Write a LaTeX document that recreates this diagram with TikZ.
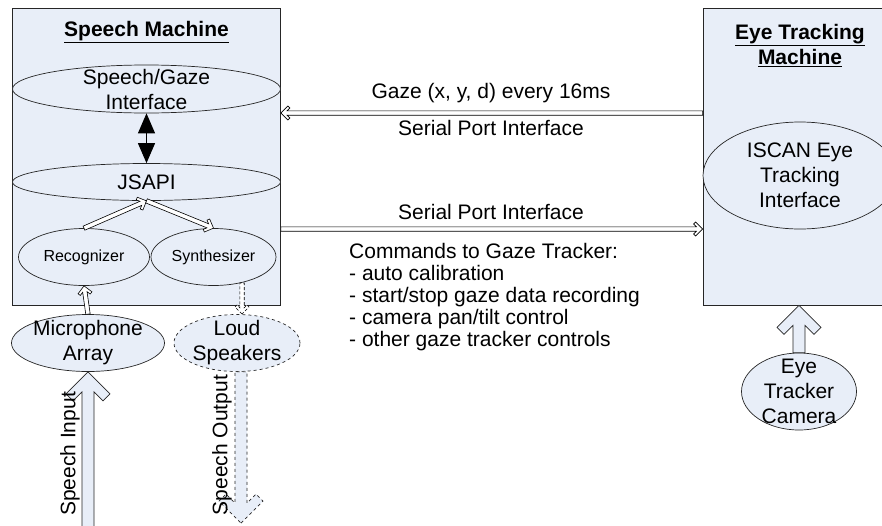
\documentclass[tikz,border=0pt]{standalone}
\usepackage{fontspec}
\setmainfont{Liberation Sans}
\usetikzlibrary{shapes.geometric,arrows.meta,calc}
\definecolor{boxfill}{RGB}{232,238,248}
% #1 style, #2 tip, #3 base, #4 sign (1 = pointing up, -1 = pointing down)
\newcommand\fatarrow[4]{%
\draw[#1] (#2) -- ($(#2)+(22,#4*22)$) -- ($(#2)+(15,#4*29)$) -- ($(#2)+(6,#4*20)$)
 -- ($(#3)+(6,0)$) -- ($(#3)+(-6,0)$) -- ($(#2)+(-6,#4*20)$)
 -- ($(#2)+(-15,#4*29)$) -- ($(#2)+(-22,#4*22)$) -- cycle;}
% hollow thin arrow: #1 style, #2 from, #3 to (tip)
\newcommand\hollowarrow[3]{%
\draw[#1] (#3) -- ($(#3)!7pt!(#2)!7pt!90:(#2)$) -- ($(#3)!9pt!(#2)!5pt!90:(#2)$)
 -- ($(#3)!6.2pt!(#2)!2.2pt!90:(#2)$) -- ($(#2)!2.2pt!-90:(#3)$) -- ($(#2)!2.2pt!90:(#3)$)
 -- ($(#3)!6.2pt!(#2)!2.2pt!-90:(#2)$) -- ($(#3)!9pt!(#2)!5pt!-90:(#2)$)
 -- ($(#3)!7pt!(#2)!7pt!-90:(#2)$) -- cycle;}
\begin{document}
\begin{tikzpicture}[x=1pt,y=-1pt,
 every node/.style={font=\fontsize{21}{25}\selectfont, inner sep=0pt},
 machine/.style={rectangle, draw=black!85, fill=boxfill, line width=0.8pt},
 ell/.style={ellipse, draw=black!85, fill=boxfill, line width=0.7pt},
 txt/.style={align=center, font=\fontsize{21}{25}\selectfont},
 smalltxt/.style={font=\fontsize{16}{19}\selectfont},
 titletxt/.style={align=center, font=\bfseries\fontsize{21}{25}\selectfont},
 hollow/.style={draw=black, fill=white, line width=0.6pt, line join=miter},
 fat/.style={draw=black!85, line width=0.7pt, fill=boxfill},
 bidir/.style={line width=1pt, {Triangle[width=17pt,length=20pt]}-{Triangle[width=17pt,length=20pt]}}
]
\useasboundingbox (0,0) rectangle (882,525);
\clip (0,0) rectangle (882,525);

% machines
\node[machine, minimum width=268, minimum height=297] (sm) at (146.5,156.5) {};
\node[machine, minimum width=194, minimum height=297] (em) at (800,156.5) {};
\node[titletxt] (smt) at (146.5,32) {\underline{Speech Machine}};
\node[titletxt] (emt) at (800,45.5) {\underline{Eye Tracking}\\\underline{Machine}};

% ellipses
\node[ell, minimum width=268, minimum height=48, label={[txt]center:{Speech/Gaze\\Interface}}] (sgi) at (146.5,89) {};
\node[ell, minimum width=268, minimum height=37, label={[txt]center:{JSAPI}}] (jsapi) at (146.5,182) {};
\node[ell, minimum width=131, minimum height=57, label={[smalltxt]center:{Recognizer}}] (rec) at (84,257) {};
\node[ell, minimum width=125, minimum height=57, label={[smalltxt]center:{Synthesizer}}] (syn) at (213.5,257) {};
\node[ell, minimum width=153, minimum height=57, label={[txt]center:{Microphone\\Array}}] (mic) at (88,343) {};
\node[ell, dashed, minimum width=126, minimum height=57, label={[txt]center:{Loud\\Speakers}}] (spk) at (237,343) {};
\node[ell, minimum width=194, minimum height=107, label={[txt]center:{ISCAN Eye\\Tracking\\Interface}}] (iscan) at (800,175.5) {};
\node[ell, minimum width=115, minimum height=77, label={[txt]center:{Eye\\Tracker\\Camera}}] (cam) at (799,391.5) {};

% internal arrows
\draw[bidir] (sgi.south) -- (jsapi.north);
\hollowarrow{hollow}{rec.north}{jsapi.south}
\hollowarrow{hollow}{jsapi.south}{syn.north}
\hollowarrow{hollow}{mic.north}{rec.south}
\coordinate (so1) at (242,283);
\coordinate (so2) at (242,314);
\hollowarrow{hollow,dashed,dash pattern=on 3pt off 2pt}{so1}{so2}

% serial links
\coordinate (gy) at (0,113);
\coordinate (sy) at (0,229);
\coordinate (g1) at (em.west |- gy);
\coordinate (g2) at (sm.east |- gy);
\coordinate (s1) at (sm.east |- sy);
\coordinate (s2) at (em.west |- sy);
\hollowarrow{hollow}{g1}{g2}
\hollowarrow{hollow}{s1}{s2}
\node (lg) at (491,93) {Gaze (x, y, d) every 16ms};
\node (ls1) at (491,128) {Serial Port Interface};
\node (ls2) at (491,212) {Serial Port Interface};
\node[align=left, anchor=west, font=\fontsize{21}{22}\selectfont] (cmd) at (349,297)
 {Commands to Gaze Tracker:\\- auto calibration\\- start/stop gaze data recording\\- camera pan/tilt control\\- other gaze tracker controls};

% fat arrows
\coordinate (sib) at (88,527);
\fatarrow{fat}{mic.south}{sib}{1}
\coordinate (sot) at (241,523);
\coordinate (sob) at (sot |- spk.south);
\fatarrow{fat,dashed}{sot}{sob}{-1}
\coordinate (ct) at (cam.north |- em.south);
\fatarrow{fat}{ct}{cam.north}{1}

\node[rotate=90] (si) at (70,454) {Speech Input};
\node[rotate=90] (sout) at (222,445) {Speech Output};
\end{tikzpicture}
\end{document}
